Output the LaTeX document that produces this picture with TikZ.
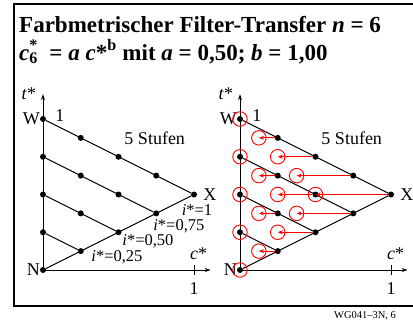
\documentclass[tikz,border=0pt]{standalone}
\usepackage{fontspec}
\setmainfont{Liberation Serif}
\usetikzlibrary{arrows.meta}
\definecolor{filter-red}{HTML}{FF0000}

\tikzset{
  dot/.style={circle, fill=black, inner sep=0pt, minimum size=6pt},
  ring/.style={circle, draw=filter-red, line width=0.9pt, inner sep=0pt, minimum size=14.5pt},
  gridline/.style={line width=1.1pt},
  axis/.style={line width=0.9pt, -{Stealth[length=6pt,width=4pt]}},
  shiftarrow/.style={draw=filter-red, line width=0.9pt, -{Stealth[length=5pt,width=4pt]}},
  txt/.style={font=\fontsize{18}{20}\selectfont, inner sep=0pt},
  itxt/.style={font=\fontsize{16.5}{18}\selectfont, inner sep=0pt},
  headline/.style={anchor=base west, inner sep=0pt, font=\fontsize{23}{26}\selectfont\bfseries},
}

\begin{document}
\begin{tikzpicture}[x=1pt, y=1pt]
  \useasboundingbox (0,0) rectangle (413,325);
  \draw[line width=1.4pt] (420,321) -- (14,321) -- (14,19) -- (420,19);
  \node[headline] (TITLE1) at (19,293)
    {Farbmetrischer Filter-Transfer \textit{n} = 6};
  \node[headline] (TITLE2) at (19,265)
    {\textit{c}\makebox[0pt][l]{\textsuperscript{*}}\textsubscript{6}\ \ = \textit{a c}*\textsuperscript{b} mit \textit{a} = 0,50; \textit{b} = 1,00};
  \node[font=\fontsize{10.5}{12}\selectfont] (CODE) at (365,9) {WG041--3N, 6};

  % both triangles
  \foreach \p/\ox in {L/43,R/240} {
    \begin{scope}[shift={(\ox pt,55pt)}, x=151pt, y=151pt]
      \foreach \m in {0,...,4}
        \foreach \k in {0,...,\m}
          \node[dot] (\p\m\k) at (\k/4, \m/4-\k/8) {};
      \foreach \m in {1,...,4}
        \draw[gridline] (\p\m0) -- (\p\m\m);
      \draw[gridline] (\p00) -- (\p44);
      \coordinate (\p TOP) at (0,1.165);
      \coordinate (\p RIGHT) at (1.11,0);
      \coordinate (\p TICK) at (1,0);
      \draw[axis] (\p00) -- (\p TOP);
      \draw[axis] (\p00) -- (\p RIGHT);
      \draw[line width=0.9pt] ([yshift=-5pt]\p TICK) -- ([yshift=5pt]\p TICK);
      \node[txt, anchor=east] (\p T) at (-0.045,1.165) {\textit{t}*};
      \node[txt, anchor=east] (\p W) at (-0.02,1) {W};
      \node[txt, anchor=west] (\p ONE) at (0.08,1.026) {1};
      \node[txt, anchor=east] (\p N) at (-0.02,0) {N};
      \node[txt, anchor=west] (\p X) at (1.06,0.5) {X};
      \node[txt] (\p STEPS) at (0.74,0.87) {5 Stufen};
      \node[txt] (\p C) at (1.03,0.11) {\textit{c}*};
      \node[txt] (\p TICKONE) at (1,-0.12) {1};
    \end{scope}
  }

  % brightness labels, left
  \begin{scope}[shift={(43pt,55pt)}, x=151pt, y=151pt]
    \node[itxt] (I100) at (1.02,0.40) {\textit{i}*=1};
    \node[itxt] (I075) at (0.90,0.29) {\textit{i}*=0,75};
    \node[itxt] (I050) at (0.695,0.19) {\textit{i}*=0,50};
    \node[itxt] (I025) at (0.49,0.086) {\textit{i}*=0,25};
  \end{scope}

  % filter transfer, right
  \begin{scope}[shift={(240pt,55pt)}, x=151pt, y=151pt]
    \foreach \m in {0,...,4}
      \foreach \k in {0,...,\m}
        \node[ring] (S\m\k) at (\k/8, \m/4-\k/8) {};
    \foreach \m in {1,...,4}
      \foreach \k in {1,...,\m}
        \draw[shiftarrow] (R\m\k) -- (S\m\k.center);
  \end{scope}
\end{tikzpicture}
\end{document}
